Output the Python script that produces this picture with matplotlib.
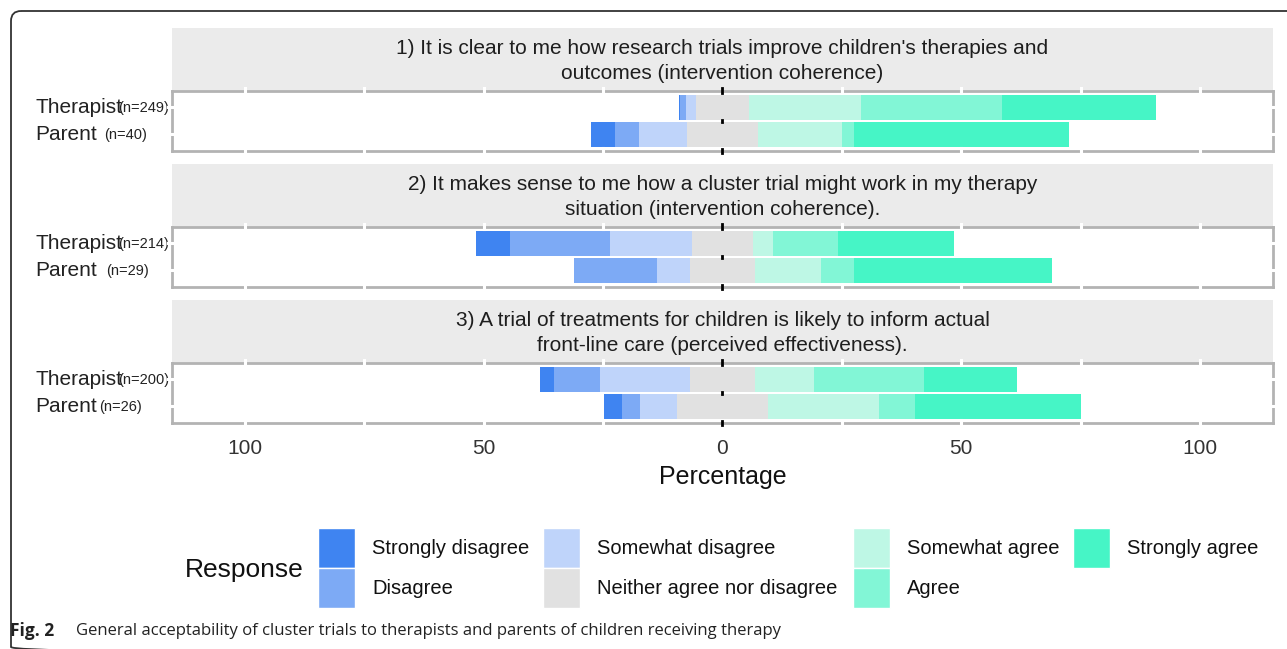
import matplotlib.pyplot as plt
from matplotlib.patches import FancyBboxPatch, Rectangle

# response scale and colours
responses = ['Strongly disagree', 'Disagree', 'Somewhat disagree',
             'Neither agree nor disagree', 'Somewhat agree', 'Agree', 'Strongly agree']
colors = ['#3f84f1', '#7daaf5', '#bfd4fa', '#e1e1e1', '#bef7e5', '#82f6d6', '#46f5c6']

# percentages (order as in responses)
q1_therapist = [0.4, 1.2, 2.0, 11.2, 23.4, 29.5, 32.3]
q1_parent = [5.0, 5.0, 10.0, 15.0, 17.5, 2.5, 45.0]
q2_therapist = [7.0, 21.0, 17.3, 12.6, 4.2, 13.6, 24.3]
q2_parent = [0.0, 17.2, 6.9, 13.8, 13.8, 6.9, 41.4]
q3_therapist = [3.0, 9.5, 19.0, 13.5, 12.5, 23.0, 19.5]
q3_parent = [3.8, 3.8, 7.7, 19.2, 23.1, 7.7, 34.6]

questions = [
    "1) It is clear to me how research trials improve children's therapies and\noutcomes (intervention coherence)",
    "2) It makes sense to me how a cluster trial might work in my therapy\nsituation (intervention coherence).",
    "3) A trial of treatments for children is likely to inform actual\nfront-line care (perceived effectiveness).",
]
therapist_n = ['(n=249)', '(n=214)', '(n=200)']
parent_n = ['(n=40)', '(n=29)', '(n=26)']
tick_vals = [-100, -50, 0, 50, 100]
tick_labels = ['100', '50', '0', '50', '100']
caption = 'General acceptability of cluster trials to therapists and parents of children receiving therapy'

data = [(q1_therapist, q1_parent), (q2_therapist, q2_parent), (q3_therapist, q3_parent)]

W, H = 1287, 649
plt.rcParams['font.family'] = ['Liberation Sans', 'DejaVu Sans']
fig = plt.figure(figsize=(W / 100, H / 100), dpi=100)


def fbox(x0, y0, x1, y1):
    return [x0 / W, 1 - y1 / H, (x1 - x0) / W, (y1 - y0) / H]


ov = fig.add_axes([0, 0, 1, 1])
ov.set_xlim(0, W)
ov.set_ylim(H, 0)
ov.axis('off')

# frame round the figure (top and left edges)
ov.add_patch(FancyBboxPatch((11, 11), 1400, 646, boxstyle='round,pad=0,rounding_size=10',
                            fc='none', ec='#333333', lw=1.3))

XL, XR = 172, 1273
YMIN, YMAX = -0.6, 1.6
grid_x = [-100, -75, -50, -25, 25, 50, 75, 100]

for i, (qtext, (ther, par)) in enumerate(zip(questions, data)):
    s = 28.3 + 136 * i
    ov.add_patch(Rectangle((XL, s), XR - XL, 62.4, fc='#ebebeb', ec='none'))
    ov.text((XL + XR) / 2, s + 33, qtext, ha='center', va='center', fontsize=15,
            color='#1e1e1e', linespacing=1.4)

    pt = s + 62.4
    ax = fig.add_axes(fbox(XL, pt, XR, pt + 60))
    ax.set_facecolor('none')
    ax.set_xlim(-115.3, 115.3)
    ax.set_ylim(YMIN, YMAX)
    for row, vals in enumerate([par, ther]):
        pos = -(vals[3] / 2 + vals[0] + vals[1] + vals[2])
        for v, c in zip(vals, colors):
            ax.barh(row, v, left=pos, height=0.92, color=c, lw=0)
            pos += v
    for sp in ax.spines.values():
        sp.set_color('#b3b3b3')
        sp.set_linewidth(2)
    xt = ax.get_xaxis_transform()
    yt = ax.get_yaxis_transform()
    for gx in grid_x:
        for y0, y1 in [(0.96, 1.04), (-0.04, 0.04)]:
            ax.plot([gx, gx], [y0, y1], transform=xt, color='white', lw=2.2,
                    clip_on=False, zorder=5)
    for gy in [0, 1]:
        for x0, x1 in [(-0.004, 0.004), (0.996, 1.004)]:
            ax.plot([x0, x1], [gy, gy], transform=yt, color='white', lw=2.2,
                    clip_on=False, zorder=5)
    for y0, y1 in [(0.97, 1.04), (-0.04, 0.03)]:
        ax.plot([0, 0], [y0, y1], transform=xt, color='black', lw=2, clip_on=False, zorder=6)
    ax.plot([0, 0], [0.46, 0.54], color='black', lw=2, zorder=6)

    if i == 2:
        ax.set_xticks(tick_vals)
        ax.set_xticklabels(tick_labels)
        ax.tick_params(axis='x', length=0, pad=12, labelsize=15, labelcolor='#333333')
    else:
        ax.set_xticks([])
    ax.set_yticks([])

    # row labels
    y_ther = pt + (YMAX - 1) / (YMAX - YMIN) * 60
    y_par = pt + (YMAX - 0) / (YMAX - YMIN) * 60
    ov.text(35, y_ther, 'Therapist', ha='left', va='center', fontsize=15, color='#222222')
    ov.text(118, y_ther + 1, therapist_n[i], ha='left', va='center', fontsize=10.5,
            color='#222222')
    ov.text(35, y_par, 'Parent', ha='left', va='center', fontsize=15, color='#222222')
    ov.text([104, 106, 99][i], y_par + 1, parent_n[i], ha='left', va='center', fontsize=10.5,
            color='#222222')

ov.text(722.5, 477, 'Percentage', ha='center', va='center', fontsize=18, color='#111111')

# legend
ov.text(185, 570, 'Response', ha='left', va='center', fontsize=19, color='#111111')
col_x = [318, 543, 853, 1073]
row_y = [528, 568]
for k, (lab, c) in enumerate(zip(responses, colors)):
    cx = col_x[k // 2]
    ry = row_y[k % 2]
    ov.add_patch(Rectangle((cx, ry), 37, 40, fc=c, ec='white', lw=1))
    ov.text(cx + 54, ry + 20, lab, ha='left', va='center', fontsize=14.5, color='#111111')

# caption
ov.text(10, 631, 'Fig. 2', ha='left', va='center', fontsize=12.5, fontweight='bold',
        family=['Open Sans', 'DejaVu Sans'], color='#222222')
ov.text(76, 631, caption, ha='left', va='center', fontsize=12,
        family=['Open Sans', 'DejaVu Sans'], color='#222222')

fig.savefig('out.png', dpi=100)
